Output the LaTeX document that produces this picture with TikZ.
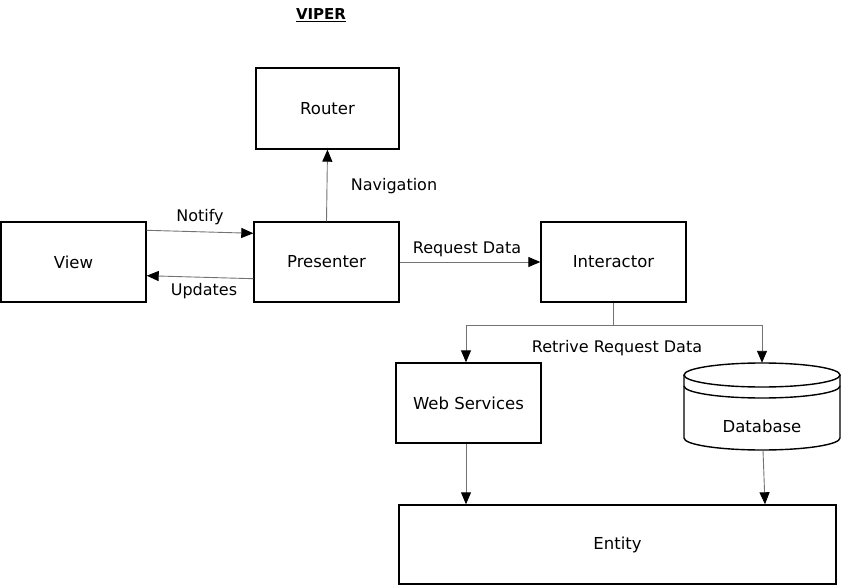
\documentclass[tikz,border=0pt]{standalone}
\usepackage{fontspec}
\setmainfont{DejaVu Sans}
\usetikzlibrary{arrows.meta}
\begin{document}
\begin{tikzpicture}[x=1pt,y=-1pt,
  box/.style={draw=black,line width=1.4pt,fill=white,inner sep=0pt,
    font=\fontsize{16.5}{19}\selectfont},
  conn/.style={draw=black!55,line width=0.9pt,
    -{Triangle[length=12pt,width=10pt,fill=black,color=black]}},
  plain/.style={draw=black!55,line width=0.9pt},
  lbl/.style={font=\fontsize{16}{19}\selectfont,inner sep=0pt}]
\useasboundingbox (0,0) rectangle (843,588);
\node[font=\bfseries\fontsize{15}{17}\selectfont] (title) at (321,15) {\underline{VIPER}};
\node[box,minimum width=143pt,minimum height=81pt] (router) at (327.5,108.5) {Router};
\node[box,minimum width=145pt,minimum height=80pt] (view) at (73.5,262) {View};
\node[box,minimum width=145pt,minimum height=80pt] (presenter) at (326.5,262) {Presenter};
\node[box,minimum width=145pt,minimum height=80pt] (interactor) at (613.5,262) {Interactor};
\node[box,minimum width=145pt,minimum height=80pt] (websvc) at (468.5,403) {Web Services};
\node[inner sep=0pt,minimum width=156pt,minimum height=87pt] (db) at (762,406.5) {};
\node[box,minimum width=437pt,minimum height=79pt] (entity) at (617.5,544.5) {Entity};
% database cylinder
\draw[line width=1.4pt,fill=white] (684,375) -- (684,438) arc[start angle=180,end angle=360,x radius=78,y radius=-12] -- (840,375);
\draw[line width=1.4pt,fill=white] (762,375) ellipse[x radius=78,y radius=12];
\draw[line width=1.4pt] (684,386) arc[start angle=180,end angle=360,x radius=78,y radius=-12];
\node[lbl,font=\fontsize{16.5}{19}\selectfont] at (762,426) {Database};
% connectors
\draw[conn] (presenter.north) -- (router.south);
\node[lbl] at (394,186) {Navigation};
\draw[conn] ([yshift=-9pt]view.north east) -- ([yshift=-12pt]presenter.north west);
\node[lbl] at (200,217) {Notify};
\draw[conn] ([yshift=24pt]presenter.south west) -- ([yshift=27pt]view.south east);
\node[lbl] at (204,291) {Updates};
\draw[conn] (presenter.east) -- (interactor.east -| interactor.west);
\node[lbl] at (467,249) {Request Data};
\coordinate (split) at (613.5,325);
\draw[plain] (interactor.south) -- (split);
\draw[conn] (split) -| ([xshift=-2.5pt]websvc.north);
\draw[conn] (split) -| (db.north);
\node[lbl] at (617,348) {Retrive Request Data};
\draw[conn] ([xshift=-2.5pt]websvc.south) -- ([xshift=-2.5pt]websvc.south |- entity.north);
\draw[conn] ([xshift=1pt]db.south) -- ([xshift=3pt]db.south |- entity.north);
\end{tikzpicture}
\end{document}
